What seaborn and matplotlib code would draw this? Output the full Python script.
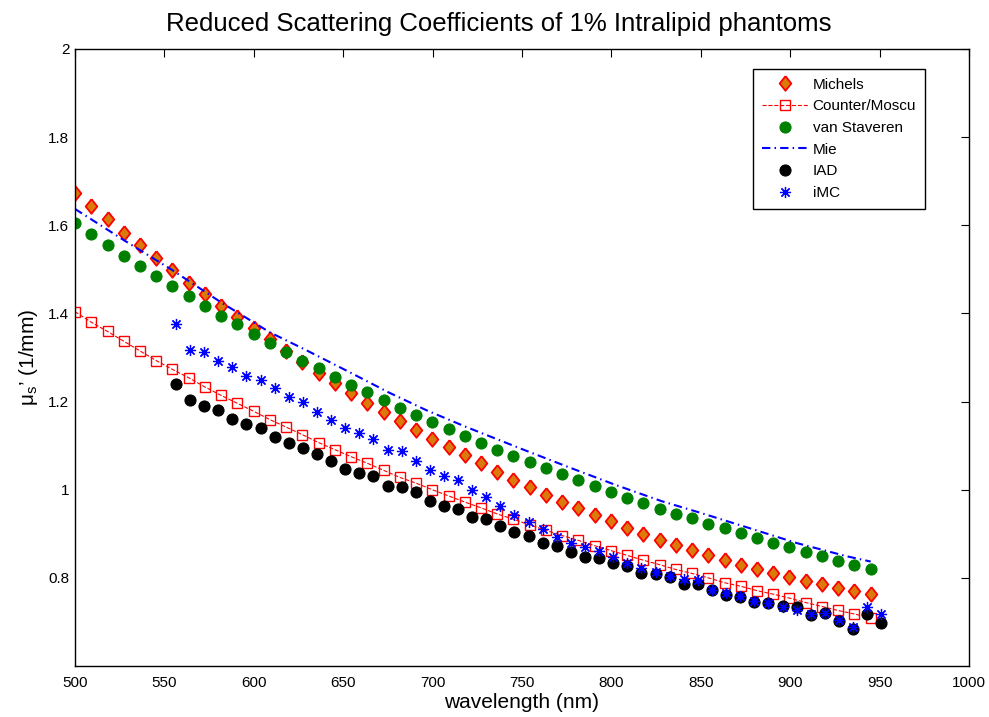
import matplotlib
matplotlib.use("Agg")
import matplotlib.pyplot as plt
import seaborn as sns
from matplotlib.ticker import FuncFormatter

# Wavelength grids (nm)
wl_lit = [500.0, 509.1, 518.2, 527.2, 536.3, 545.4, 554.5, 563.6, 572.7, 581.7,
          590.8, 599.9, 609.0, 618.1, 627.1, 636.2, 645.3, 654.4, 663.5, 672.6,
          681.6, 690.7, 699.8, 708.9, 718.0, 727.0, 736.1, 745.2, 754.3, 763.4,
          772.4, 781.5, 790.6, 799.7, 808.8, 817.9, 826.9, 836.0, 845.1, 854.2,
          863.3, 872.3, 881.4, 890.5, 899.6, 908.7, 917.8, 926.8, 935.9, 945.0]
wl_meas = [556.5, 564.4, 572.3, 580.2, 588.1, 595.9, 603.8, 611.7, 619.6, 627.5,
           635.4, 643.3, 651.2, 659.0, 666.9, 674.8, 682.7, 690.6, 698.5, 706.4,
           714.3, 722.1, 730.0, 737.9, 745.8, 753.7, 761.6, 769.5, 777.4, 785.3,
           793.1, 801.0, 808.9, 816.8, 824.7, 832.6, 840.5, 848.4, 856.2, 864.1,
           872.0, 879.9, 887.8, 895.7, 903.6, 911.5, 919.3, 927.2, 935.1, 943.0, 950.9]
mie_nm = [500, 527, 554.5, 581.7, 609, 629.6, 652.9, 675.3, 696.7, 719,
          750.7, 776.8, 802.9, 828.1, 848.6, 874.7, 903.6, 931.6, 945]

# Reduced scattering coefficient mu_s' (1/mm)
michels = [1.673, 1.644, 1.613, 1.583, 1.554, 1.526, 1.498, 1.470, 1.443, 1.417,
           1.392, 1.367, 1.342, 1.314, 1.290, 1.265, 1.242, 1.220, 1.197, 1.176,
           1.156, 1.135, 1.115, 1.097, 1.078, 1.060, 1.041, 1.023, 1.006, 0.989,
           0.973, 0.958, 0.943, 0.928, 0.913, 0.900, 0.887, 0.875, 0.863, 0.851,
           0.840, 0.829, 0.819, 0.810, 0.803, 0.793, 0.785, 0.778, 0.771, 0.764]
counter_moscu = [1.404, 1.380, 1.359, 1.337, 1.315, 1.293, 1.273, 1.254, 1.233, 1.214,
                 1.196, 1.178, 1.159, 1.142, 1.125, 1.107, 1.091, 1.075, 1.060, 1.044,
                 1.028, 1.015, 1.000, 0.986, 0.972, 0.959, 0.945, 0.933, 0.920, 0.908,
                 0.896, 0.885, 0.873, 0.862, 0.851, 0.840, 0.830, 0.819, 0.810, 0.800,
                 0.789, 0.781, 0.771, 0.763, 0.754, 0.744, 0.735, 0.726, 0.718, 0.709]
van_staveren = [1.605, 1.580, 1.555, 1.530, 1.507, 1.484, 1.461, 1.439, 1.417, 1.395,
                1.375, 1.353, 1.332, 1.312, 1.293, 1.275, 1.256, 1.238, 1.221, 1.203,
                1.186, 1.169, 1.153, 1.137, 1.122, 1.107, 1.091, 1.076, 1.062, 1.049,
                1.035, 1.021, 1.008, 0.994, 0.982, 0.969, 0.957, 0.946, 0.935, 0.922,
                0.912, 0.901, 0.891, 0.879, 0.869, 0.859, 0.850, 0.839, 0.829, 0.821]
mie = [1.637, 1.567, 1.498, 1.425, 1.357, 1.316, 1.268, 1.221, 1.180, 1.142,
       1.091, 1.050, 1.010, 0.974, 0.949, 0.916, 0.879, 0.849, 0.837]
iad = [1.239, 1.203, 1.190, 1.180, 1.160, 1.150, 1.140, 1.119,
       1.106, 1.095, 1.080, 1.066, 1.047, 1.038, 1.031, 1.009, 1.005, 0.994, 0.975,
       0.963, 0.957, 0.938, 0.934,
       0.917, 0.903, 0.895, 0.879, 0.873, 0.859, 0.847, 0.846, 0.833, 0.826, 0.812,
       0.809, 0.801, 0.786, 0.785,
       0.773, 0.762, 0.756, 0.746, 0.743, 0.737, 0.733, 0.716, 0.720, 0.703, 0.685,
       0.717, 0.697]
imc = [1.375, 1.318, 1.312, 1.292, 1.278, 1.259, 1.250, 1.231,
       1.210, 1.200, 1.176, 1.159, 1.140, 1.128, 1.116, 1.089, 1.087, 1.065, 1.045,
       1.030, 1.023, 1.000, 0.983,
       0.963, 0.942, 0.927, 0.910, 0.892, 0.878, 0.869, 0.862, 0.847, 0.833, 0.823,
       0.814, 0.804, 0.798, 0.795,
       0.773, 0.766, 0.758, 0.748, 0.743, 0.735, 0.728, 0.717, 0.720, 0.705, 0.688,
       0.733, 0.718]

x_ticks = [500, 550, 600, 650, 700, 750, 800, 850, 900, 950, 1000]
y_ticks = [0.8, 1.0, 1.2, 1.4, 1.6, 1.8, 2.0]

sns.set_style("white")
plt.rcParams["font.family"] = ["Liberation Sans", "DejaVu Sans"]
plt.rcParams["mathtext.fontset"] = "custom"
plt.rcParams["mathtext.rm"] = "Liberation Sans"
plt.rcParams["text.color"] = "black"
plt.rcParams["axes.labelcolor"] = "black"
plt.rcParams["xtick.color"] = "black"
plt.rcParams["ytick.color"] = "black"

fig = plt.figure(figsize=(9.89, 7.17), dpi=100)
ax = fig.add_axes([0.0758, 0.0711, 0.9040, 0.8607])

diamond = [(0, 1), (0.8, 0), (0, -1), (-0.8, 0), (0, 1)]

sns.lineplot(x=wl_lit, y=michels, ax=ax, label="Michels", linestyle="none",
             marker=diamond, markersize=10.5, markerfacecolor="#DA7A0A",
             markeredgecolor="#FF0000", markeredgewidth=1.3, sort=False)
sns.lineplot(x=wl_lit, y=counter_moscu, ax=ax, label="Counter/Moscu",
             color="#FF0000", linestyle="--", linewidth=0.8,
             marker="s", markersize=6.5, markerfacecolor="none",
             markeredgecolor="#FF0000", markeredgewidth=1.0, sort=False)
sns.lineplot(x=wl_lit, y=van_staveren, ax=ax, label="van Staveren", linestyle="none",
             marker="o", markersize=8, markerfacecolor="#008000",
             markeredgecolor="#008000", sort=False)
sns.lineplot(x=mie_nm, y=mie, ax=ax, label="Mie", color="#0000FF",
             linestyle=(0, (4, 2, 0.7, 2)), linewidth=1.5, sort=False)
sns.lineplot(x=wl_meas, y=iad, ax=ax, label="IAD", linestyle="none",
             marker="o", markersize=8, markerfacecolor="black",
             markeredgecolor="black", sort=False)
sns.lineplot(x=wl_meas, y=imc, ax=ax, label="iMC", linestyle="none",
             marker=(8, 2, 0), markersize=8, markeredgecolor="#0000FF",
             markerfacecolor="#0000FF", markeredgewidth=0.9, sort=False)

ax.set_xlim(500, 1000)
ax.set_ylim(0.6, 2.0)
ax.set_xticks(x_ticks)
ax.set_yticks(y_ticks)
ax.yaxis.set_major_formatter(FuncFormatter(lambda v, p: f"{v:g}"))
ax.tick_params(direction="in", length=6, width=0.8, top=True, right=True,
               labelsize=11, colors="black", pad=4)
ax.tick_params(axis="x", pad=7)
for s in ax.spines.values():
    s.set_visible(True)
    s.set_color("black")
    s.set_linewidth(1.0)

ax.set_title("Reduced Scattering Coefficients of 1% Intralipid phantoms",
             fontsize=18.5, pad=13, color="black", x=0.474)
ax.set_xlabel("wavelength (nm)", fontsize=15, labelpad=2)
ax.set_ylabel("\u03bc$_\\mathregular{s}$\u2019 (1/mm)", fontsize=15, labelpad=6)

leg = ax.legend(loc="upper right", bbox_to_anchor=(0.951, 0.968),
                borderaxespad=0, fontsize=11, numpoints=1, handlelength=3.0,
                handletextpad=0.3, labelspacing=0.5, borderpad=0.6,
                fancybox=False, framealpha=1, edgecolor="black")
leg.get_frame().set_linewidth(1.0)

fig.savefig("out.png", dpi=100, facecolor="white")
